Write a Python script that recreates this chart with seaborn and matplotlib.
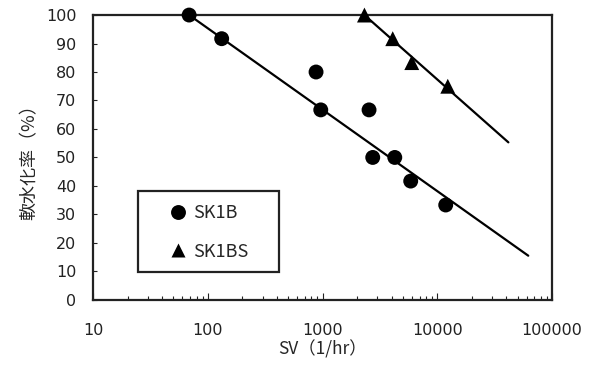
import numpy as np
import pandas as pd
import matplotlib
matplotlib.use('Agg')
import matplotlib.pyplot as plt
import matplotlib.ticker as mticker
from matplotlib.patches import Rectangle
import seaborn as sns

# measured points
sk1b_sv = [68.7, 132, 877, 964, 2540, 2735, 4257, 5860, 11830]
sk1b_rate = [100, 91.7, 80, 66.7, 66.7, 50, 50, 41.7, 33.3]
sk1bs_sv = [2316, 4085, 5985, 12330]
sk1bs_rate = [100, 91.7, 83.3, 75]

# trend lines (ends)
trend_sk1b_sv = [68.7, 62000]
trend_sk1b_rate = [100, 15.5]
trend_sk1bs_sv = [2316, 41600]
trend_sk1bs_rate = [100, 55.3]

x_ticks = [10, 100, 1000, 10000, 100000]
y_ticks = list(range(0, 101, 10))

data = pd.DataFrame({
    'SV': sk1b_sv + sk1bs_sv,
    'rate': sk1b_rate + sk1bs_rate,
    'series': ['SK1B'] * len(sk1b_sv) + ['SK1BS'] * len(sk1bs_sv),
})

sns.set_style('white')
plt.rcParams['font.family'] = ['Noto Sans CJK JP', 'DejaVu Sans']

fig, ax = plt.subplots(figsize=(5.93, 3.67), dpi=100)
fig.subplots_adjust(left=0.157, right=0.931, bottom=0.183, top=0.959)

ax.plot(trend_sk1b_sv, trend_sk1b_rate, color='black', lw=1.6)
ax.plot(trend_sk1bs_sv, trend_sk1bs_rate, color='black', lw=1.6)

sns.scatterplot(data=data, x='SV', y='rate', style='series',
                markers={'SK1B': 'o', 'SK1BS': '^'}, color='black',
                s=115, edgecolor='none', ax=ax, clip_on=False, zorder=3)

ax.set_xscale('log')
ax.set_xlim(10, 100000)
ax.set_ylim(0, 100)
ax.set_xticks(x_ticks)
ax.xaxis.set_major_formatter(mticker.FuncFormatter(lambda v, p: f'{int(round(v))}'))
ax.xaxis.set_minor_locator(mticker.LogLocator(base=10, subs=np.arange(2, 10)))
ax.xaxis.set_minor_formatter(mticker.NullFormatter())
ax.set_yticks(y_ticks)

ax.tick_params(axis='x', which='major', direction='in', length=5, width=0.8,
               labelsize=11.5, pad=17, bottom=True, colors='#222')
ax.tick_params(axis='x', which='minor', direction='in', length=3, width=0.8,
               bottom=True, color='#222')
ax.tick_params(axis='y', which='major', direction='in', length=3, width=0.8,
               labelsize=11.5, pad=12, left=True, colors='#222')
for lab in ax.get_xticklabels() + ax.get_yticklabels():
    lab.set_family('DejaVu Sans')

for sp in ax.spines.values():
    sp.set_color('#222')
    sp.set_linewidth(1.6)

ax.set_xlabel('SV（1/hr）', fontsize=12.5, labelpad=1)
ax.set_ylabel('軟水化率（%）', fontsize=13, labelpad=5)

# legend with separate frame
ax.add_patch(Rectangle((0.098, 0.098), 0.307, 0.284, transform=ax.transAxes,
                       fill=False, edgecolor='#222', lw=1.6, zorder=4))
handles, labels = ax.get_legend_handles_labels()
leg = ax.legend(handles, labels, loc='center', bbox_to_anchor=(0.2515, 0.237),
                frameon=False, fontsize=13, labelspacing=1.15,
                handlelength=1.0, handletextpad=0.3, markerscale=1.0)

fig.savefig('out.png', dpi=100)
